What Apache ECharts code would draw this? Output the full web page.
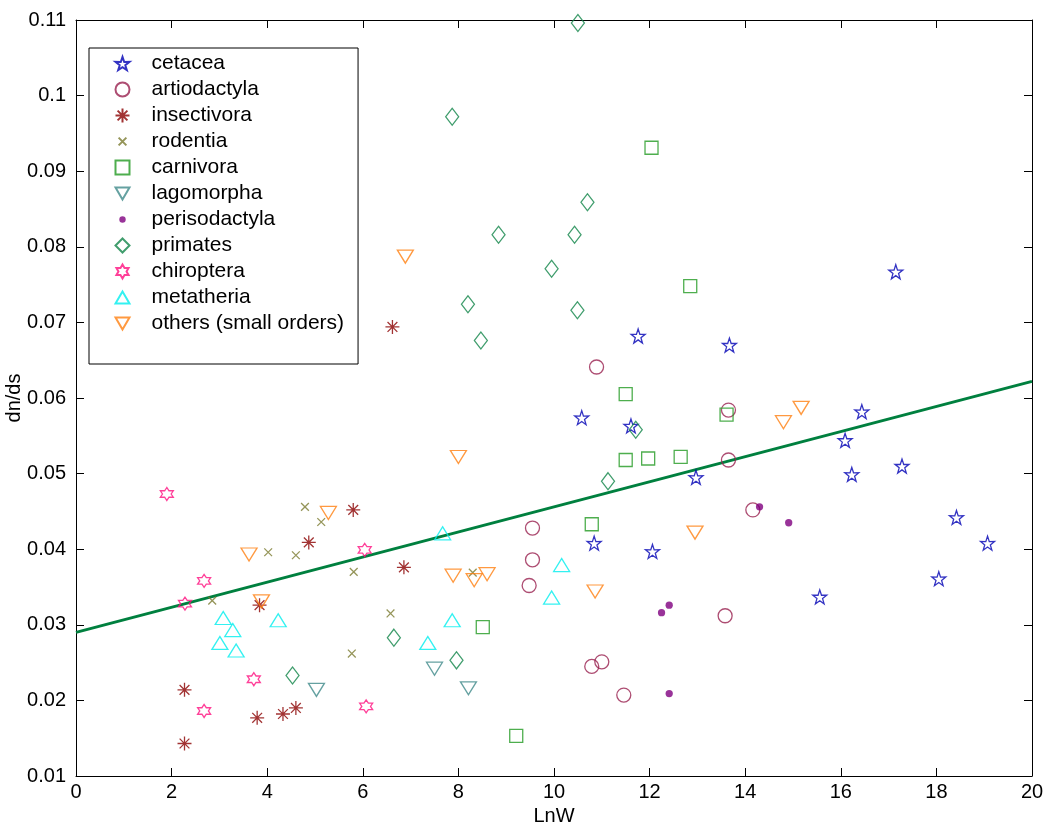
<!DOCTYPE html>
<html>
<head>
<meta charset="utf-8">
<script src="https://cdn.jsdelivr.net/npm/echarts@6/dist/echarts.min.js"></script>
<style>
html,body{margin:0;padding:0;background:#fff;}
#chart{width:1048px;height:826px;}
</style>
</head>
<body>
<div id="chart"></div>
<script>
// ---- data (LnW, dn/ds) ----
const seriesNames = ['cetacea','artiodactyla','insectivora','rodentia','carnivora','lagomorpha','perisodactyla','primates','chiroptera','metatheria','others (small orders)'];
const cetacea = [[17.15,0.0767],[11.76,0.0682],[13.67,0.0670],[10.58,0.0574],[11.61,0.0563],[16.44,0.0582],[16.09,0.0544],[16.23,0.0499],[17.28,0.0510],[12.97,0.0495],[10.84,0.0408],[12.06,0.0397],[15.56,0.0337],[18.05,0.0361],[18.42,0.0442],[19.07,0.0408]];
const artiodactyla = [[10.89,0.0641],[13.65,0.0584],[13.65,0.0518],[9.55,0.0428],[9.55,0.0386],[9.48,0.0352],[13.58,0.0312],[10.79,0.0245],[11.00,0.0251],[11.46,0.0207],[14.16,0.0452]];
const insectivora = [[6.62,0.0694],[5.80,0.0452],[4.87,0.0409],[6.86,0.0376],[3.84,0.0326],[2.27,0.0214],[2.27,0.0143],[3.79,0.0177],[4.33,0.0182],[4.60,0.0190]];
const rodentia = [[4.79,0.0456],[5.13,0.0436],[4.02,0.0396],[4.60,0.0392],[5.81,0.0370],[2.85,0.0332],[6.58,0.0315],[5.77,0.0262],[8.30,0.0369]];
const carnivora = [[12.04,0.0931],[12.85,0.0748],[11.50,0.0605],[13.61,0.0578],[11.50,0.0518],[11.97,0.0520],[12.65,0.0522],[10.79,0.0433],[8.51,0.0297],[9.21,0.0153]];
const lagomorpha = [[5.03,0.0214],[7.50,0.0242],[8.21,0.0216]];
const perisodactyla = [[12.41,0.0326],[12.25,0.0316],[12.41,0.0209],[14.30,0.0456],[14.91,0.0435]];
const primates = [[10.50,0.1096],[7.87,0.0972],[10.70,0.0859],[8.84,0.0816],[10.43,0.0816],[9.95,0.0771],[8.20,0.0724],[10.49,0.0716],[8.47,0.0676],[11.71,0.0558],[11.13,0.0490],[7.96,0.0253],[4.53,0.0233],[6.65,0.0283]];
const chiroptera = [[1.90,0.0473],[6.04,0.0399],[2.68,0.0358],[2.28,0.0328],[3.72,0.0228],[2.68,0.0186],[6.07,0.0192]];
const metatheria = [[3.08,0.0309],[3.28,0.0293],[3.01,0.0276],[3.35,0.0266],[4.23,0.0306],[7.67,0.0421],[10.16,0.0379],[9.95,0.0336],[7.87,0.0306],[7.36,0.0276]];
const others = [[6.89,0.0787],[8.00,0.0522],[12.95,0.0422],[7.89,0.0365],[8.33,0.0359],[8.60,0.0367],[10.86,0.0344],[5.28,0.0448],[3.62,0.0393],[3.88,0.0331],[15.17,0.0587],[14.80,0.0568]];
const fitLine = [[0,0.0290],[20,0.0622]];
const xRange = [0, 20, 2];
const yRange = [0.01, 0.11, 0.01];

// ---- marker shapes ----
const STAR = 'path://M50,0 L61.8,35.1 L97.6,34.5 L69.1,56.7 L79.4,90.5 L50,70.3 L20.6,90.5 L30.9,56.7 L2.4,34.5 L38.2,35.1 Z';
const HEXA = 'path://M50,0 L35.57,25 L6.7,25 L21.13,50 L6.7,75 L35.57,75 L50,100 L64.43,75 L93.3,75 L78.87,50 L93.3,25 L64.43,25 Z';
const ASTER = 'path://M0,50 L100,50 M50,0 L50,100 M15,15 L85,85 M85,15 L15,85';
// small cross, padded bounding box (moveTo corners) so it renders ~55% of the symbol box
const CROSS = 'path://M-40,-40 M140,140 M0,0 L100,100 M100,0 L0,100';
// small dot, padded bounding box
const DOT = 'path://M-60,-60 M160,160 M0,50 A50,50 0 1,1 100,50 A50,50 0 1,1 0,50 Z';
const TRI_DOWN = 'path://M0,0 L100,0 L50,87 Z';
const TRI_UP = 'path://M50,0 L100,87 L0,87 Z';

const FONT = 'Liberation Sans, Arial, sans-serif';
const BW = 1.3;

function hollow(name, data, symbol, size, color) {
  return {
    type: 'scatter', name: name, data: data, symbol: symbol, symbolSize: size,
    itemStyle: { color: 'none', borderColor: color, borderWidth: BW },
    emphasis: { disabled: true }, z: 3
  };
}

const series = [
  hollow('cetacea', cetacea, STAR, 14, '#0000b4'),
  hollow('artiodactyla', artiodactyla, 'circle', 14, '#99204f'),
  hollow('insectivora', insectivora, ASTER, 14, '#8b0000'),
  hollow('rodentia', rodentia, CROSS, 14, '#7a7a30'),
  hollow('carnivora', carnivora, 'rect', 13, '#229a22'),
  hollow('lagomorpha', lagomorpha, TRI_DOWN, [16,13], '#3f8a8a'),
  {
    type: 'scatter', name: 'perisodactyla', data: perisodactyla, symbol: DOT, symbolSize: 16,
    itemStyle: { color: '#800080', borderWidth: 0 }, emphasis: { disabled: true }, z: 3
  },
  hollow('primates', primates, 'diamond', [13,17], '#108448'),
  hollow('chiroptera', chiroptera, HEXA, 13, '#ff1080'),
  hollow('metatheria', metatheria, TRI_UP, [16,13], '#00eeee'),
  hollow('others (small orders)', others, TRI_DOWN, [16,13], '#ff8010'),
  {
    type: 'line', name: 'fit', data: fitLine, showSymbol: false, symbol: 'none',
    lineStyle: { color: '#00803f', width: 3 }, emphasis: { disabled: true }, z: 2
  }
];

const axisLineStyle = { show: true, onZero: false, lineStyle: { color: '#000', width: 1 } };
const tickStyle = { show: true, inside: true, length: 8, lineStyle: { color: '#000', width: 1 } };

const option = {
  animation: false,
  backgroundColor: '#fff',
  textStyle: { fontFamily: FONT },
  grid: { left: 76, right: 16, top: 20, bottom: 50, containLabel: false, outerBoundsMode: 'none' },
  legend: {
    data: seriesNames,
    orient: 'vertical',
    left: 89, top: 48,
    padding: [5, 14, 30, 24],
    itemGap: 5,
    itemWidth: 14, itemHeight: 14,
    borderColor: '#000', borderWidth: 1,
    backgroundColor: '#fff',
    selectedMode: false,
    textStyle: { fontSize: 21, color: '#000', fontFamily: FONT, padding: [0, 0, 0, 17] }
  },
  xAxis: [
    {
      type: 'value', min: xRange[0], max: xRange[1], interval: xRange[2], position: 'bottom',
      axisLine: axisLineStyle, axisTick: tickStyle, splitLine: { show: false },
      axisLabel: { fontSize: 20, color: '#000', margin: 6, fontFamily: FONT },
      name: 'LnW', nameLocation: 'middle', nameGap: 30, nameMoveOverlap: false,
      nameTextStyle: { fontSize: 20, color: '#000', fontFamily: FONT }
    },
    {
      type: 'value', min: xRange[0], max: xRange[1], interval: xRange[2], position: 'top',
      axisLine: axisLineStyle, axisTick: tickStyle, splitLine: { show: false },
      axisLabel: { show: false }
    }
  ],
  yAxis: [
    {
      type: 'value', min: yRange[0], max: yRange[1], interval: yRange[2], position: 'left',
      axisLine: axisLineStyle, axisTick: tickStyle, splitLine: { show: false },
      axisLabel: {
        fontSize: 20, color: '#000', margin: 10, fontFamily: FONT,
        formatter: function (v) { return String(parseFloat(v.toFixed(3))); }
      },
      name: 'dn/ds', nameLocation: 'middle', nameGap: 52, nameRotate: 90, nameMoveOverlap: false,
      nameTextStyle: { fontSize: 20, color: '#000', fontFamily: FONT }
    },
    {
      type: 'value', min: yRange[0], max: yRange[1], interval: yRange[2], position: 'right',
      axisLine: axisLineStyle, axisTick: tickStyle, splitLine: { show: false },
      axisLabel: { show: false }
    }
  ],
  series: series
};

const chart = echarts.init(document.getElementById('chart'), null, { renderer: 'canvas' });
chart.setOption(option);
</script>
</body>
</html>
